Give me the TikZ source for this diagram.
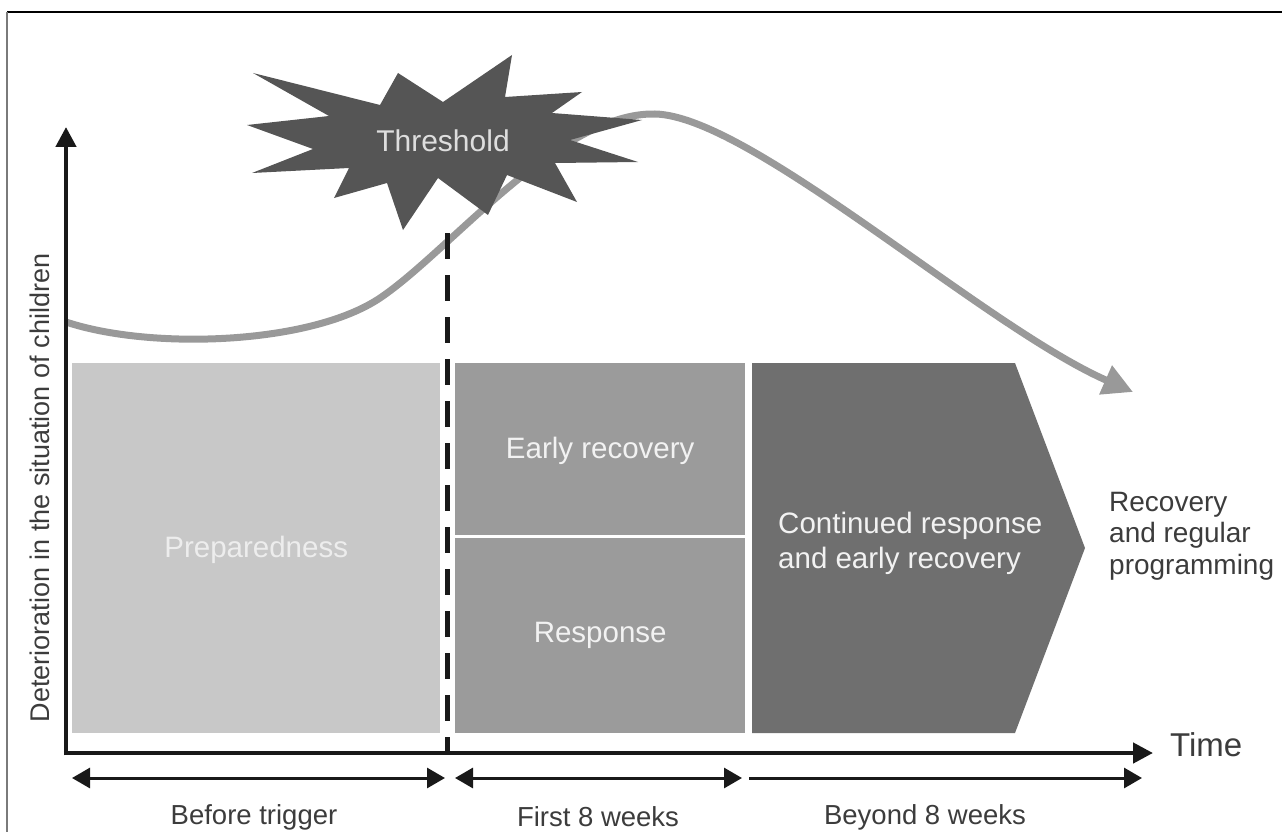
\documentclass[tikz,border=0pt]{standalone}
\usepackage{fontspec}
\setmainfont{Liberation Sans}
\usetikzlibrary{arrows.meta,calc}

\definecolor{prepgray}{HTML}{C8C8C8}
\definecolor{midgray}{HTML}{9B9B9B}
\definecolor{darkbox}{HTML}{6F6F6F}
\definecolor{stargray}{HTML}{555555}
\definecolor{curvegray}{HTML}{999999}
\definecolor{labelgray}{HTML}{3C3C3C}
\definecolor{lighttext}{HTML}{F2F2F2}
\definecolor{framegray}{HTML}{7A7A7A}

\tikzset{
  phase/.style={draw=none, inner sep=0pt, text=lighttext,
    font=\fontsize{29.5}{35}\selectfont},
  axis/.style={line width=4.5pt, draw=black!90,
    -{Triangle[length=20pt,width=20pt]}},
  span/.style={line width=3pt, draw=black!90,
    {Triangle[length=18pt,width=20pt]}-{Triangle[length=18pt,width=20pt]}},
  spanend/.style={line width=3pt, draw=black!90,
    -{Triangle[length=18pt,width=20pt]}},
  spanlabel/.style={text=labelgray, font=\fontsize{27.5}{33}\selectfont},
  trend/.style={line width=7pt, draw=curvegray,
    -{Triangle[length=30pt,width=30pt]}},
  trigger/.style={line width=5pt, draw=black!90, dash pattern=on 26pt off 16pt},
}

\begin{document}
\begin{tikzpicture}[x=1pt,y=-1pt]
\useasboundingbox (0,0) rectangle (1282,832);

% outer frame (top and left edges)
\draw[line width=1.6pt, black] (7,12) -- (1282,12);
\draw[line width=1.6pt, framegray] (7,12) -- (7,832);

% phase boxes
\node[phase, fill=prepgray, minimum width=368pt, minimum height=370pt,
  anchor=north west] (prep) at (72,363) {};
\node[phase, text=white!93!black] (preptext) at ($(prep.center)+(0,2)$) {Preparedness};

\node[phase, fill=midgray, minimum width=290pt, minimum height=172pt,
  anchor=north west] (early) at (455,363) {};
\node[phase] (earlytext) at ($(early.center)+(0,2)$) {Early recovery};

\node[phase, fill=midgray, minimum width=290pt, minimum height=195pt,
  anchor=north west] (resp) at (455,538) {};
\node[phase] (resptext) at ($(resp.center)+(0,0)$) {Response};

% chevron for the continued phase
\fill[darkbox] (752,363) -- (1015,363) -- (1085,548) -- (1015,733) -- (752,733) -- cycle;
\node[phase, anchor=west, align=left] (cont) at (778,543)
  {Continued response\\and early recovery};

\node[anchor=west, align=left, text=labelgray, inner sep=0pt,
  font=\fontsize{28}{31.5}\selectfont] (rec) at (1109,536)
  {Recovery\\and regular\\programming};

% trend of the children's situation
\draw[trend] (66,322) .. controls (150,350) and (310,345) .. (380,298)
  .. controls (450,251) and (560,112) .. (655,114)
  .. controls (750,116) and (983,326) .. (1133,392);

% threshold burst
\fill[stargray] (253,73) -- (380,105) -- (398,73) -- (443,102) -- (512,55)
  -- (505,97) -- (582,92) -- (552,113) -- (642,120) -- (570,140) -- (638,162)
  -- (555,163) -- (577,202) -- (507,175) -- (488,215) -- (438,178) -- (403,230)
  -- (387,183) -- (334,198) -- (349,168) -- (252,173) -- (313,149) -- (247,125)
  -- (329,116) -- cycle;
\node[text=white!87!black, inner sep=0pt, font=\fontsize{30}{36}\selectfont]
  (thr) at (443,141) {Threshold};

% axes
\coordinate (origin) at (66,753);
\coordinate (ytip) at (66,127);
\coordinate (xtip) at (1153,753);
\draw[axis] ($(origin)+(0,2.25)$) -- (ytip);
\draw[axis] ($(origin)+(-2.25,0)$) -- (xtip);
\node[text=labelgray, inner sep=0pt, font=\fontsize{33}{40}\selectfont,
  anchor=west] (time) at (1170,745) {Time};
\node[rotate=90, text=labelgray, inner sep=0pt, font=\fontsize{27}{32}\selectfont]
  (ylabel) at (40,488) {Deterioration in the situation of children};

% trigger line
\coordinate (trigtop) at (447,233);
\coordinate (trigbot) at (447,753);
\draw[trigger] (trigtop) -- (trigbot);

% time spans
\coordinate (s1a) at (72,778);
\coordinate (s1b) at (445,778);
\coordinate (s2a) at (455,778);
\coordinate (s2b) at (742,778);
\coordinate (s3a) at (749,778);
\coordinate (s3b) at (1142,778);
\draw[span] (s1a) -- (s1b);
\draw[span] (s2a) -- (s2b);
\draw[spanend] (s3a) -- (s3b);
\node[spanlabel] (l1) at (254,817) {Before trigger};
\node[spanlabel] (l2) at (598,817) {First 8 weeks};
\node[spanlabel] (l3) at (925,817) {Beyond 8 weeks};
\end{tikzpicture}
\end{document}
